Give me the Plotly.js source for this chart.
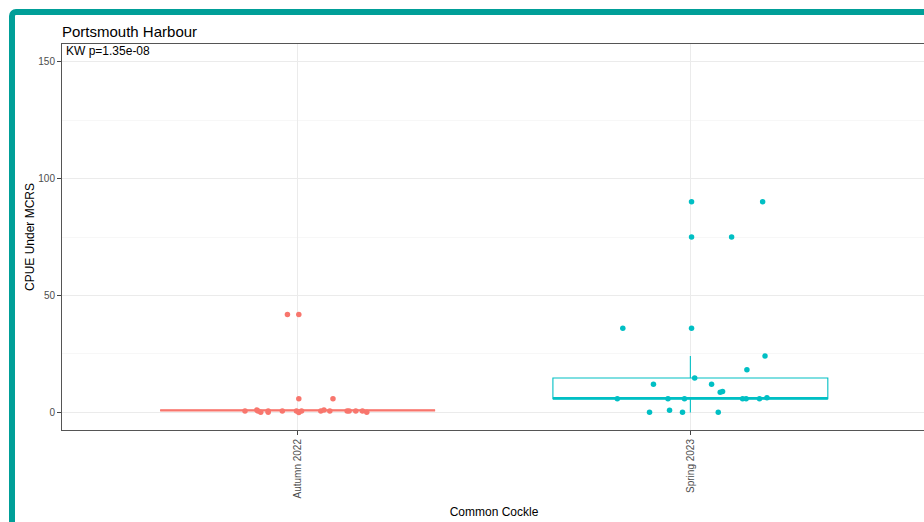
<!DOCTYPE html>
<html>
<head>
<meta charset="utf-8">
<script src="https://cdn.plot.ly/plotly-3.0.1.min.js"></script>
<style>
  html, body { margin: 0; padding: 0; overflow: hidden; background: #ffffff; }
  #chart { width: 936px; height: 522px; }
  #frame { position: fixed; left: 9px; top: 9px; width: 2000px; height: 2000px;
           border: 6px solid #009f98; border-radius: 7px; pointer-events: none; z-index: 10; }
</style>
</head>
<body>
<div id="frame"></div>
<div id="chart"></div>
<script>
// ---- data ----
const categories = ["Autumn 2022", "Spring 2023"];
const colors = ["#F8766D", "#00BFC4"];

// Autumn 2022 jittered points: offset from category centre, CPUE value
const autumnJitter = [-0.026, 0.003, 0.003, 0.090, -0.134, -0.104, -0.101, -0.094, -0.075, -0.075,
                      -0.039, -0.003, 0.003, 0.010, 0.059, 0.067, 0.082, 0.126, 0.131, 0.148, 0.165, 0.176];
const autumnValues = [41.9, 41.9, 5.9, 5.9, 0.6, 1.0, 0.6, 0.1, 0.6, 0.1,
                      0.6, 0.6, 0.0, 0.6, 0.6, 1.0, 0.6, 0.6, 0.6, 0.6, 0.6, 0.1];

// Spring 2023 jittered points
const springJitter = [0.003, 0.184, 0.003, 0.105, -0.172, 0.003, 0.190, 0.144, 0.011, -0.094,
                      0.054, 0.076, 0.082, -0.186, -0.057, -0.015, 0.133, 0.142, 0.176, 0.195,
                      -0.104, -0.020, 0.071, -0.053];
const springValues = [90.1, 90.1, 75.0, 75.0, 36.0, 36.0, 24.1, 18.3, 14.7, 12.1,
                      12.1, 8.6, 9.0, 5.9, 5.9, 5.9, 5.9, 5.9, 5.9, 6.3,
                      0.1, 0.1, 0.1, 0.9];

// Box statistics per category
const boxLower  = [0.9, 0.0];
const boxQ1     = [0.9, 5.9];
const boxMedian = [0.9, 5.9];
const boxQ3     = [0.9, 14.7];
const boxUpper  = [0.9, 24.1];

const title = "Portsmouth Harbour";
const annotationText = "KW p=1.35e-08";
const xTitle = "Common Cockle";
const yTitle = "CPUE Under MCRS";
const yTicks = [0, 50, 100, 150];

// ---- build traces ----
const BOX_W = 0.7;
const font = "Arial, 'Liberation Sans', sans-serif";
const pointSets = [[autumnJitter, autumnValues], [springJitter, springValues]];
const traces = [];

categories.forEach((c, i) => {
  const pos = i + 1;
  traces.push({
    type: 'box', x: [pos],
    q1: [boxQ1[i]], median: [boxMedian[i]], q3: [boxQ3[i]],
    lowerfence: [boxLower[i]], upperfence: [boxUpper[i]],
    width: BOX_W, boxpoints: false,
    fillcolor: 'rgba(255,255,255,0)',
    line: { color: colors[i], width: 1.1 },
    whiskerwidth: 0, hoverinfo: 'skip', showlegend: false
  });
  traces.push({
    type: 'scatter', mode: 'lines',
    x: [pos - BOX_W / 2, pos + BOX_W / 2], y: [boxMedian[i], boxMedian[i]],
    line: { color: colors[i], width: 2.2 }, hoverinfo: 'skip', showlegend: false
  });
});
pointSets.forEach((s, i) => {
  traces.push({
    type: 'scatter', mode: 'markers',
    x: s[0].map(j => i + 1 + j), y: s[1],
    marker: { color: colors[i], size: 5.5, line: { width: 0 } },
    hoverinfo: 'skip', showlegend: false
  });
});

const layout = {
  width: 936, height: 522,
  margin: { l: 62, r: 10, t: 44, b: 92 },
  paper_bgcolor: '#ffffff', plot_bgcolor: '#ffffff',
  font: { family: font, color: '#000000' },
  title: {
    text: title, font: { size: 15, color: '#000000', family: font },
    x: 0, xref: 'paper', xanchor: 'left',
    y: 1, yref: 'paper', yanchor: 'bottom', pad: { b: 7 }
  },
  xaxis: {
    range: [0.4, 2.6], tickmode: 'array', tickvals: [1, 2], ticktext: categories,
    tickangle: -90, tickfont: { size: 10, color: '#4D4D4D', family: font },
    ticks: 'outside', ticklen: 4, tickcolor: '#444444', tickwidth: 1,
    showgrid: true, gridcolor: '#EBEBEB', gridwidth: 1, zeroline: false,
    showline: true, mirror: true, linecolor: '#555555', linewidth: 1,
    title: { text: xTitle, font: { size: 12, color: '#000000', family: font }, standoff: 10 },
    automargin: false, fixedrange: true
  },
  yaxis: {
    range: [-7.5, 157.5], tickmode: 'array', tickvals: yTicks,
    tickfont: { size: 10, color: '#4D4D4D', family: font },
    ticks: 'outside', ticklen: 4, tickcolor: '#444444', tickwidth: 1,
    showgrid: true, gridcolor: '#EBEBEB', gridwidth: 1, zeroline: false,
    minor: { tickvals: [25, 75, 125], showgrid: true, gridcolor: '#F3F3F3', gridwidth: 0.7, ticks: '' },
    showline: true, mirror: true, linecolor: '#555555', linewidth: 1,
    title: { text: yTitle, font: { size: 12, color: '#000000', family: font }, standoff: 1 },
    automargin: false, fixedrange: true
  },
  annotations: [{
    text: annotationText, xref: 'paper', yref: 'paper', x: 0, y: 1,
    xanchor: 'left', yanchor: 'top', showarrow: false, xshift: 2, yshift: 2,
    font: { size: 12, color: '#000000', family: font }
  }],
  showlegend: false
};

Plotly.newPlot('chart', traces, layout, { displayModeBar: false, staticPlot: true });
</script>
</body>
</html>
